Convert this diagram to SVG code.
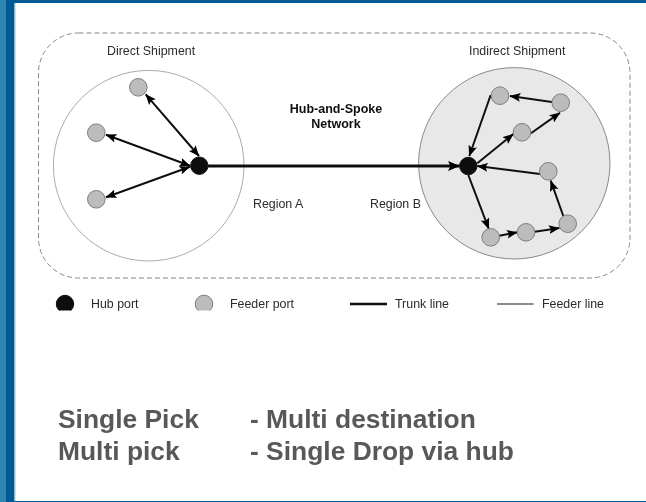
<svg xmlns="http://www.w3.org/2000/svg" width="646" height="502" viewBox="0 0 646 502">
<style>
text{font-family:"Liberation Sans",Arial,sans-serif;fill:#2b2b2b;font-size:12.4px}
.b{font-weight:bold;fill:#111;font-size:12.5px}
.big{font-weight:bold;font-size:26.4px;fill:#595959}
.hub{fill:#111;stroke:#111}
.feeder{fill:#bcbcbc;stroke:#7d7d7d;stroke-width:1}
.line{fill:none;stroke:#111;stroke-width:2}
.trunk{fill:none;stroke:#111;stroke-width:3.2}
</style>
<defs>
<marker id="a" viewBox="0 0 10 8" refX="9.5" refY="4" markerWidth="11" markerHeight="9.500" markerUnits="userSpaceOnUse" orient="auto-start-reverse"><path d="M0 0L10 4L0 8L2 4Z" fill="#000"/></marker>
<marker id="t" viewBox="0 0 12 10" refX="11.5" refY="5" markerWidth="12" markerHeight="12" markerUnits="userSpaceOnUse" orient="auto"><path d="M0 0L12 5L0 10L2.5 5Z" fill="#000"/></marker>
<clipPath id="lc"><rect x="40" y="290" width="200" height="20.5"/></clipPath>
<filter id="s" x="-5%" y="-5%" width="110%" height="110%"><feGaussianBlur stdDeviation="0.35"/></filter>
</defs>
<rect width="646" height="502" fill="#fff"/>
<rect width="14.500" height="502" fill="#005a94"/>
<rect width="6" height="502" fill="#2e86ae"/>
<rect x="6" width="640" height="3" fill="#005a94"/>
<rect x="6" y="501" width="640" height="1" fill="#005a94"/>
<rect x="14.500" y="3" width="1" height="498" fill="#9cc4dd"/>
<g filter="url(#s)">
<g id="region-frame"><rect x="38.500" y="33" width="591.500" height="245" rx="40" ry="40" fill="none" stroke="#888" stroke-width="1" stroke-dasharray="5 3"/></g>
<g id="region-a"><circle cx="148.700" cy="165.700" r="95.300" fill="#fff" stroke="#aaa" stroke-width="1"/></g>
<g id="region-b"><circle cx="514.300" cy="163.300" r="95.700" fill="#e8e8e8" stroke="#888" stroke-width="1"/></g>
<g id="connectors">
<path class="trunk" d="M208 166H459.500" marker-end="url(#t)"/>
<path class="line" d="M145.700 94.300L199 156" marker-start="url(#a)" marker-end="url(#a)"/>
<path class="line" d="M106 134.700L190 165.700" marker-start="url(#a)" marker-end="url(#a)"/>
<path class="line" d="M106 197.300L190 166.700" marker-start="url(#a)" marker-end="url(#a)"/>
<path class="line" d="M490.700 95L469.300 156" marker-end="url(#a)"/>
<path class="line" d="M552 102L510 96" marker-end="url(#a)"/>
<path class="line" d="M531 133.300L560 112.700" marker-end="url(#a)"/>
<path class="line" d="M477.300 163.300L513.300 134" marker-end="url(#a)"/>
<path class="line" d="M540 174L477.300 166" marker-end="url(#a)"/>
<path class="line" d="M563.300 216L550.700 180.700" marker-end="url(#a)"/>
<path class="line" d="M534.700 231.700L559.300 228" marker-end="url(#a)"/>
<path class="line" d="M499.300 235.700L517.300 232.300" marker-end="url(#a)"/>
<path class="line" d="M468.300 175L488.700 228.700" marker-end="url(#a)"/>
</g>
<g id="hub-a"><circle class="hub" cx="199.300" cy="165.700" r="8.700"/></g>
<g id="hub-b"><circle class="hub" cx="468.300" cy="166" r="8.700"/></g>
<g id="a1"><circle class="feeder" cx="138.300" cy="87.300" r="8.800"/></g>
<g id="a2"><circle class="feeder" cx="96.300" cy="132.700" r="8.800"/></g>
<g id="a3"><circle class="feeder" cx="96.300" cy="199.300" r="8.800"/></g>
<g id="b1"><circle class="feeder" cx="500" cy="95.700" r="8.800"/></g>
<g id="b2"><circle class="feeder" cx="560.700" cy="102.700" r="8.800"/></g>
<g id="b3"><circle class="feeder" cx="522" cy="132.300" r="8.800"/></g>
<g id="b4"><circle class="feeder" cx="548.300" cy="171.300" r="8.800"/></g>
<g id="b5"><circle class="feeder" cx="567.700" cy="223.700" r="8.800"/></g>
<g id="b6"><circle class="feeder" cx="526" cy="232.300" r="8.800"/></g>
<g id="b7"><circle class="feeder" cx="490.700" cy="237.300" r="8.800"/></g>
<g id="legend">
<g clip-path="url(#lc)"><circle class="hub" cx="65" cy="304" r="8.700"/><circle class="feeder" cx="204" cy="304" r="8.800"/></g>
<path d="M350 304H387" fill="none" stroke="#111" stroke-width="2.500"/>
<path d="M497 304H533.500" fill="none" stroke="#111" stroke-width="1.200"/>
<text x="91" y="308">Hub port</text>
<text x="230" y="308">Feeder port</text>
<text x="395" y="308">Trunk line</text>
<text x="542" y="308">Feeder line</text>
</g>
<text x="107" y="55">Direct Shipment</text>
<text x="469" y="55">Indirect Shipment</text>
<text class="b" x="336" y="113" text-anchor="middle">Hub-and-Spoke</text>
<text class="b" x="336" y="128" text-anchor="middle">Network</text>
<text x="253" y="208">Region A</text>
<text x="370" y="208">Region B</text>
<text class="big" x="58" y="428">Single Pick</text>
<text class="big" x="58" y="460">Multi pick</text>
<text class="big" x="250" y="428">- Multi destination</text>
<text class="big" x="250" y="460">- Single Drop via hub</text>
</g>
</svg>
